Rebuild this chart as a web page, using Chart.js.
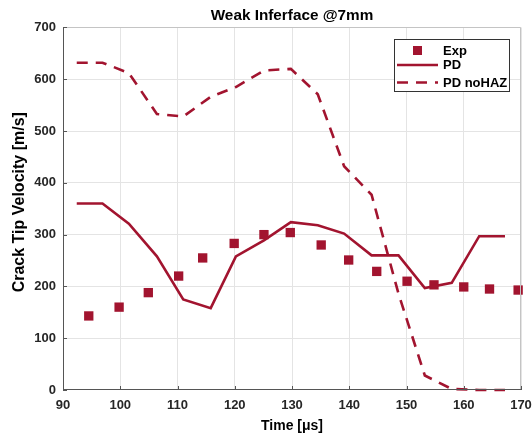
<!DOCTYPE html>
<html>
<head>
<meta charset="utf-8">
<script src="https://cdn.jsdelivr.net/npm/chart.js@4/dist/chart.umd.min.js"></script>
<style>
  html, body { margin: 0; padding: 0; background: #fff; }
  canvas { display: block; }
</style>
</head>
<body>
<canvas id="c" width="532" height="436"></canvas>
<script>
// Experimental crack tip velocity measurements
const expTime = [94.5, 99.8, 104.9, 110.2, 114.4, 119.9, 125.1, 129.7, 135.1, 139.9, 144.8, 150.1, 154.8, 160.0, 164.5, 169.5];
const expVel  = [143, 160, 188, 220, 255, 283, 300, 304, 280, 251, 229, 210, 203, 199, 195, 193];

// Peridynamic simulation output times
const pdTime = [92.4, 96.9, 101.5, 106.4, 111.0, 115.8, 120.2, 125.1, 129.8, 134.5, 139.1, 143.9, 148.6, 153.2, 157.9, 162.7, 167.2];
// PD model with heat-affected zone
const pdVel = [360, 360, 321, 258, 175, 158, 258, 289, 324, 318, 302, 260, 260, 197, 207, 297, 297];
// PD model without heat-affected zone
const pdNoHazVel = [632, 632, 612, 533, 528, 566, 585, 617, 620, 571, 432, 377, 186, 28, 2, 0, 0];

// Axis ticks
const xTicks = [90, 100, 110, 120, 130, 140, 150, 160, 170];
const yTicks = [0, 100, 200, 300, 400, 500, 600, 700];

const seriesLabels = ['Exp', 'PD', 'PD noHAZ'];
const titleText = 'Weak Inferface @7mm';
const xTitle = 'Time [\u03bcs]';
const yTitle = 'Crack Tip Velocity [m/s]';

const RED = '#A2142F';
const FONT = '"Liberation Sans", Arial, Helvetica, sans-serif';

const pairs = (xs, ys) => xs.map((x, i) => ({ x: x, y: ys[i] }));

// Frame: dark axes on left/bottom, light box on top/right, inward ticks
const framePlugin = {
  id: 'frame',
  afterDraw(chart) {
    const { ctx, chartArea: a, scales } = chart;
    ctx.save();
    ctx.lineWidth = 1;
    ctx.strokeStyle = '#c4c4c4';
    ctx.beginPath();
    ctx.moveTo(Math.round(a.left) + 0.5, Math.round(a.top) + 0.5);
    ctx.lineTo(Math.round(a.right) - 0.5, Math.round(a.top) + 0.5);
    ctx.lineTo(Math.round(a.right) - 0.5, Math.round(a.bottom) - 0.5);
    ctx.stroke();
    ctx.strokeStyle = '#555';
    ctx.beginPath();
    ctx.moveTo(Math.round(a.left) + 0.5, Math.round(a.top));
    ctx.lineTo(Math.round(a.left) + 0.5, Math.round(a.bottom) - 0.5);
    ctx.lineTo(Math.round(a.right), Math.round(a.bottom) - 0.5);
    ctx.stroke();
    ctx.beginPath();
    xTicks.forEach(v => {
      const px = Math.round(scales.x.getPixelForValue(v)) + 0.5;
      ctx.moveTo(px, a.bottom);
      ctx.lineTo(px, a.bottom - 4);
    });
    yTicks.forEach(v => {
      const py = Math.round(scales.y.getPixelForValue(v)) + 0.5;
      ctx.moveTo(a.left, py);
      ctx.lineTo(a.left + 4, py);
    });
    ctx.stroke();

    // vertical axis title
    ctx.fillStyle = '#000';
    ctx.font = 'bold 16px ' + FONT;
    ctx.textAlign = 'center';
    ctx.textBaseline = 'middle';
    ctx.translate(20, (a.top + a.bottom) / 2 - 6.5);
    ctx.rotate(-Math.PI / 2);
    ctx.fillText(yTitle, 0, 0);
    ctx.restore();
  }
};

// Boxed legend in the upper right of the plot area
const legendPlugin = {
  id: 'boxLegend',
  afterDraw(chart) {
    const { ctx } = chart;
    const bx = 394.5, by = 39.5, bw = 115, bh = 52;
    ctx.save();
    ctx.fillStyle = '#fff';
    ctx.fillRect(bx, by, bw, bh);
    ctx.strokeStyle = '#333';
    ctx.lineWidth = 1;
    ctx.strokeRect(bx, by, bw, bh);

    const rows = [50.5, 65, 82.5];
    const x0 = 397, x1 = 438, tx = 443;
    chart.data.datasets.forEach((ds, i) => {
      const y = rows[i];
      ctx.strokeStyle = ds.borderColor;
      ctx.fillStyle = ds.backgroundColor;
      if (ds.showLine === false) {
        const s = 9;
        ctx.fillRect((x0 + x1) / 2 - s / 2, y - s / 2, s, s);
      } else {
        ctx.lineWidth = ds.borderWidth;
        ctx.setLineDash(ds.borderDash || []);
        ctx.beginPath();
        ctx.moveTo(x0, y);
        ctx.lineTo(x1, y);
        ctx.stroke();
        ctx.setLineDash([]);
      }
      ctx.fillStyle = '#000';
      ctx.font = 'bold 13px ' + FONT;
      ctx.textAlign = 'left';
      ctx.textBaseline = 'middle';
      ctx.fillText(ds.label, tx, y + 0.5);
    });
    ctx.restore();
  }
};

new Chart(document.getElementById('c'), {
  type: 'line',
  data: {
    datasets: [
      {
        label: seriesLabels[0],
        data: pairs(expTime, expVel),
        showLine: false,
        pointStyle: 'rect',
        pointRadius: 6.6,
        pointBorderWidth: 0,
        backgroundColor: RED,
        borderColor: RED
      },
      {
        label: seriesLabels[1],
        data: pairs(pdTime, pdVel),
        borderColor: RED,
        backgroundColor: RED,
        borderWidth: 2.6,
        pointRadius: 0,
        tension: 0,
        fill: false
      },
      {
        label: seriesLabels[2],
        data: pairs(pdTime, pdNoHazVel),
        borderColor: RED,
        backgroundColor: RED,
        borderWidth: 2.6,
        borderDash: [11, 8],
        pointRadius: 0,
        tension: 0,
        fill: false
      }
    ]
  },
  options: {
    responsive: false,
    animation: false,
    devicePixelRatio: 1,
    clip: false,
    layout: { padding: { left: 0, right: 11, top: 0, bottom: 0 } },
    plugins: {
      legend: { display: false },
      tooltip: { enabled: false },
      title: {
        display: true,
        fullSize: false,
        text: titleText,
        color: '#000',
        font: { family: FONT, size: 15.3, weight: 'bold', lineHeight: 1.2 },
        padding: { top: 7, bottom: 2.1 }
      }
    },
    scales: {
      x: {
        type: 'linear',
        min: 90,
        max: 170,
        afterBuildTicks(scale) { scale.ticks = xTicks.map(v => ({ value: v })); },
        afterFit(scale) {
          scale.height = 46;
          scale.paddingLeft = 0;
          scale.paddingRight = 0;
        },
        ticks: {
          color: '#262626',
          font: { family: FONT, size: 13, weight: 'bold' },
          padding: 8,
          maxRotation: 0
        },
        grid: { color: '#e4e4e4', lineWidth: 1, drawTicks: false },
        border: { display: false },
        title: {
          display: true,
          text: xTitle,
          color: '#000',
          font: { family: FONT, size: 14, weight: 'bold', lineHeight: 1.2 },
          padding: { top: 0, bottom: 1.6 }
        }
      },
      y: {
        type: 'linear',
        min: 0,
        max: 700,
        afterBuildTicks(scale) { scale.ticks = yTicks.map(v => ({ value: v })); },
        afterFit(scale) { scale.width = 63; },
        ticks: {
          color: '#262626',
          font: { family: FONT, size: 13, weight: 'bold' },
          padding: 7
        },
        grid: { color: '#e4e4e4', lineWidth: 1, drawTicks: false },
        border: { display: false }
      }
    }
  },
  plugins: [framePlugin, legendPlugin]
});
</script>
</body>
</html>
